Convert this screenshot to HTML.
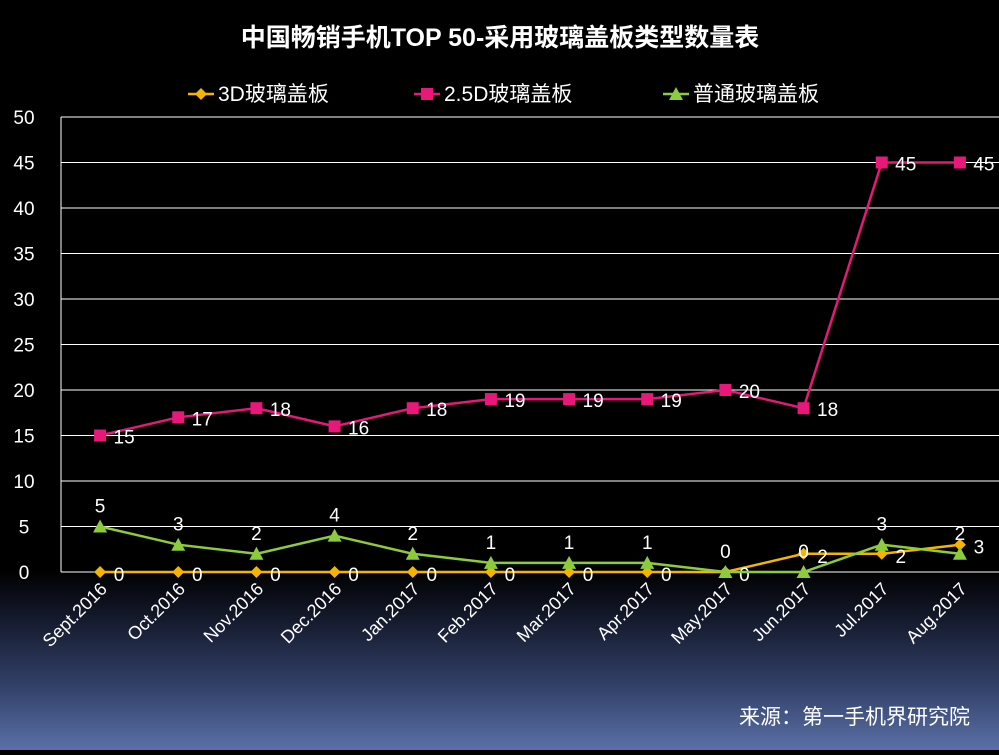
<!DOCTYPE html>
<html><head><meta charset="utf-8">
<style>
html,body{margin:0;padding:0;}
body{width:999px;height:750px;overflow:hidden;background:linear-gradient(to bottom,#000 0%,#000 76%,#161c30 83%,#34436c 92%,#5a70a6 100%);font-family:"Liberation Sans","Noto Sans CJK SC",sans-serif;}
svg text{font-family:"Liberation Sans","Noto Sans CJK SC",sans-serif;}
</style></head>
<body>
<svg id="chart" width="999" height="750" xmlns="http://www.w3.org/2000/svg">
<text x="500" y="46" fill="#fff" font-size="25" font-weight="bold" text-anchor="middle">中国畅销手机TOP 50-采用玻璃盖板类型数量表</text>
<g id="legend"></g>
<g id="grid"></g>
<g id="series"></g>
<text x="970" y="724" fill="#fff" font-size="21" text-anchor="end">来源：第一手机界研究院</text>
</svg>
<script>
const categories=["Sept.2016","Oct.2016","Nov.2016","Dec.2016","Jan.2017","Feb.2017","Mar.2017","Apr.2017","May.2017","Jun.2017","Jul.2017","Aug.2017"];
const series3D=[0,0,0,0,0,0,0,0,0,2,2,3];
const series25D=[15,17,18,16,18,19,19,19,20,18,45,45];
const seriesNormal=[5,3,2,4,2,1,1,1,0,0,3,2];
const yTicks=[0,5,10,15,20,25,30,35,40,45,50];
const seriesNames=["3D玻璃盖板","2.5D玻璃盖板","普通玻璃盖板"];

const NS="http://www.w3.org/2000/svg";
const plotLeft=61,plotRight=999,plotTop=117,plotBottom=572,yMax=50;
const step=(plotRight-plotLeft)/categories.length;
const xs=i=>plotLeft+step*(i+0.5);
const ys=v=>plotBottom-(v/yMax)*(plotBottom-plotTop);
function mk(tag,attrs,parent){const e=document.createElementNS(NS,tag);for(const k in attrs)e.setAttribute(k,attrs[k]);parent.appendChild(e);return e;}
const grid=document.getElementById('grid');
yTicks.forEach(t=>{
  const l=mk('line',{x1:plotLeft,x2:plotRight,y1:ys(t),y2:ys(t),stroke:'#fff','stroke-width':1},grid);
  
  
  const tx=mk('text',{x:24,y:ys(t)+7,fill:'#fff','font-size':19,'text-anchor':'middle'},grid);
  tx.textContent=t;
  
  
});
const ax=mk('line',{x1:plotLeft,x2:plotLeft,y1:plotTop,y2:plotBottom,stroke:'#fff','stroke-width':1},grid);


categories.forEach((c,i)=>{
  const tx=mk('text',{x:xs(i)+8,y:plotBottom+18,fill:'#fff','font-size':18,'text-anchor':'end',transform:`rotate(-45 ${xs(i)+8} ${plotBottom+18})`},grid);
  tx.textContent=c;
  
  
});
const sg=document.getElementById('series');
function marker(type,cx,cy,color,p){
  let e;
  if(type==='diamond')e=mk('polygon',{points:`${cx},${cy-6} ${cx+6},${cy} ${cx},${cy+6} ${cx-6},${cy}`,fill:color},p);
  else if(type==='square')e=mk('rect',{x:cx-6,y:cy-6,width:12,height:12,fill:color},p);
  else e=mk('polygon',{points:`${cx},${cy-7} ${cx+7},${cy+6} ${cx-7},${cy+6}`,fill:color},p);
  return e;
}
function drawSeries(data,color,type,name,lab){
  const g=mk('g',{},sg);
  
  
  mk('polyline',{points:data.map((v,i)=>xs(i)+','+ys(v)).join(' '),fill:'none',stroke:color,'stroke-width':2.5},g);
  data.forEach((v,i)=>{
    const m=marker(type,xs(i),ys(v),color,g);
    
    
    const t=mk('text',{x:xs(i)+lab[0],y:ys(v)+lab[1],fill:'#fff','font-size':19,'text-anchor':'middle'},g);
    t.textContent=v;
    
    
  });
}
drawSeries(series3D,'#f5b400','diamond','series-3d',[19,9]);
drawSeries(seriesNormal,'#8ccc3c','triangle','series-normal',[0,-14]);
drawSeries(series25D,'#e8177a','square','series-2-5d',[24,8]);
const lg=document.getElementById('legend');
const legendItems=[[188,'#f5b400','diamond'],[414,'#e8177a','square'],[663,'#8ccc3c','triangle']];
legendItems.forEach((it,i)=>{
  const g=mk('g',{},lg);
  
  
  mk('line',{x1:it[0],x2:it[0]+26,y1:94,y2:94,stroke:it[1],'stroke-width':2.5},g);
  marker(it[2],it[0]+13,94,it[1],g);
  const t=mk('text',{x:it[0]+30,y:101,fill:'#fff','font-size':21},g);
  t.textContent=seriesNames[i];
});
</script>
</body></html>
